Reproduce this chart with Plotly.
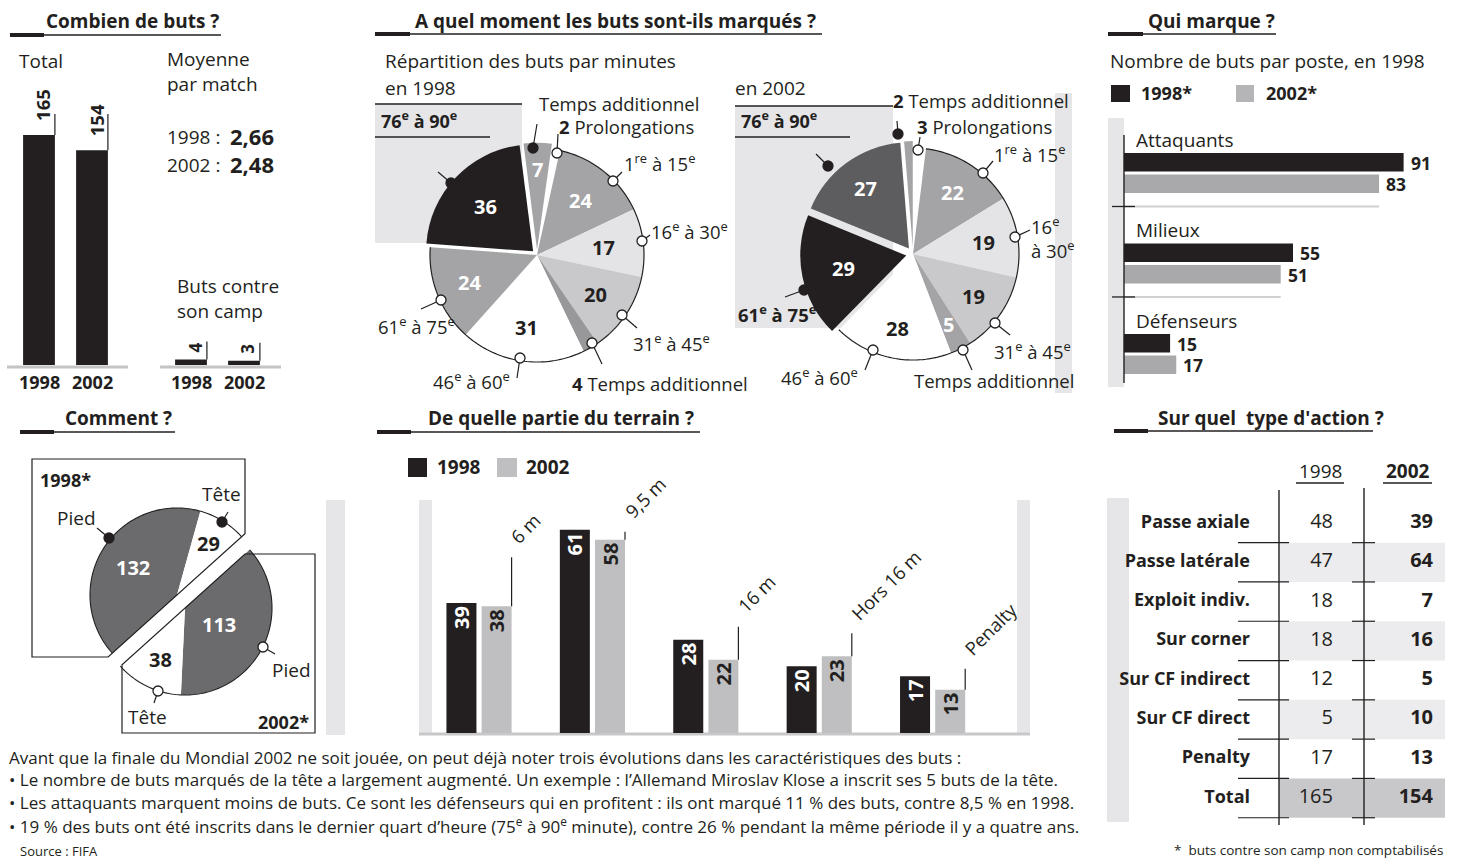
import math
import plotly.graph_objects as go

# ---------------- data ----------------
YEARS = ["1998", "2002"]
TOTAL_GOALS = [165, 154]
OWN_GOALS = [4, 3]
AVG_PER_MATCH = ["2,66", "2,48"]

PERIOD_LABELS = ["Prolongations", "1re à 15e", "16e à 30e", "31e à 45e",
                 "Temps additionnel 1re période", "46e à 60e", "61e à 75e",
                 "76e à 90e", "Temps additionnel 2e période"]
PERIOD_GOALS_1998 = [2, 24, 17, 20, 4, 31, 24, 36, 7]
PERIOD_GOALS_2002 = [3, 22, 19, 19, 5, 28, 29, 27, 2]

POSITIONS = ["Attaquants", "Milieux", "Défenseurs"]
POSITION_GOALS_1998 = [91, 55, 15]
POSITION_GOALS_2002 = [83, 51, 17]

BODY_PARTS = ["Pied", "Tête"]
BODY_GOALS_1998 = [132, 29]
BODY_GOALS_2002 = [113, 38]

ZONES = ["6 m", "9,5 m", "16 m", "Hors 16 m", "Penalty"]
ZONE_GOALS_1998 = [39, 61, 28, 20, 17]
ZONE_GOALS_2002 = [38, 58, 22, 23, 13]

ACTIONS = ["Passe axiale", "Passe latérale", "Exploit indiv.", "Sur corner",
           "Sur CF indirect", "Sur CF direct", "Penalty"]
ACTION_GOALS_1998 = [48, 47, 18, 18, 12, 5, 17]
ACTION_GOALS_2002 = [39, 64, 7, 16, 5, 10, 13]

NOTES = [
    "Avant que la finale du Mondial 2002 ne soit jouée, on peut déjà noter trois évolutions dans les caractéristiques des buts :",
    "• Le nombre de buts marqués de la tête a largement augmenté. Un exemple : l’Allemand Miroslav Klose a inscrit ses 5 buts de la tête.",
    "• Les attaquants marquent moins de buts. Ce sont les défenseurs qui en profitent : ils ont marqué 11 % des buts, contre 8,5 % en 1998.",
    "• 19 % des buts ont été inscrits dans le dernier quart d’heure (75<sup>e</sup> à 90<sup>e</sup> minute), contre 26 % pendant la même période il y a quatre ans.",
]

# ---------------- style ----------------
W, H = 1467, 861
FONT = "Open Sans, Noto Sans, DejaVu Sans, sans-serif"
INK = "#231f20"
DARK = "#5d5c5e"
PIED = "#6b6a6c"
MID = "#a4a4a7"
GREY4 = "#98989b"
PALE = "#c9c9cb"
LIGHT = "#e4e4e6"
BAND = "#e6e6e8"
BAR02 = "#bfbfc1"
BARPOS02 = "#a9a9ab"


def fx(x):
    return x / W


def fy(y):
    return 1 - y / H


shapes, annotations = [], []


def line(x0, y0, x1, y1, color=INK, width=1.2, layer="above"):
    shapes.append(dict(type="line", xref="paper", yref="paper",
                       x0=fx(x0), y0=fy(y0), x1=fx(x1), y1=fy(y1),
                       line=dict(color=color, width=width), layer=layer))


def rect(x0, y0, x1, y1, fill, layer="below"):
    shapes.append(dict(type="rect", xref="paper", yref="paper",
                       x0=fx(x0), y0=fy(y0), x1=fx(x1), y1=fy(y1),
                       fillcolor=fill, line=dict(width=0), layer=layer))


def dot(x, y, filled, r=5):
    shapes.append(dict(type="circle", xref="paper", yref="paper",
                       x0=fx(x - r), y0=fy(y + r), x1=fx(x + r), y1=fy(y - r),
                       fillcolor=INK if filled else "white",
                       line=dict(color=INK, width=1.3), layer="above"))


def path(points, closed=False, color=INK, width=1.2):
    d = "M " + " L ".join(f"{fx(x):.6f},{fy(y):.6f}" for x, y in points)
    if closed:
        d += " Z"
    shapes.append(dict(type="path", xref="paper", yref="paper", path=d,
                       line=dict(color=color, width=width), layer="above"))


def text(x, y, s, size=19, xanchor="left", yanchor="middle", color=INK,
         bold=False, angle=0, align="left"):
    annotations.append(dict(x=fx(x), y=fy(y), xref="paper", yref="paper",
                            text=f"<b>{s}</b>" if bold else s, showarrow=False,
                            xanchor=xanchor, yanchor=yanchor, textangle=angle,
                            align=align,
                            font=dict(family=FONT, size=size, color=color)))


def polar(cx, cy, r, deg):
    t = math.radians(deg)
    return cx + r * math.sin(t), cy - r * math.cos(t)


def slice_angles(values, rotation):
    total = sum(values)
    out, a = [], rotation
    for v in values:
        span = v / total * 360.0
        out.append((a, a + span))
        a += span
    return out


def arc(cx, cy, r, a0, a1, step=1.5):
    n = max(2, int(abs(a1 - a0) / step) + 1)
    return [polar(cx, cy, r, a0 + (a1 - a0) * k / (n - 1)) for k in range(n)]


def section_title(label, x0, x_thick, x_text, x_end, y_text, y_line):
    line(x0, y_line, x_thick, y_line, width=4)
    line(x_thick, y_line, x_end, y_line, width=1.4)
    text(x_text, y_text, label, size=19, bold=True)


fig = go.Figure()

# ============ Combien de buts ? ============
section_title("Combien de buts ?", 10, 44, 44, 221, 21, 35)
text(17, 61, "Total")
text(165, 72, "Moyenne<br>par match")
for k, (yr, avg) in enumerate(zip(YEARS, AVG_PER_MATCH)):
    text(165, 137 + 28 * k, f"{yr} :", size=19)
    text(228, 136 + 28 * k, avg, size=22, bold=True)
text(175, 298, "Buts contre<br>son camp")

idx = list(range(len(YEARS)))
fig.add_trace(go.Bar(x=idx, y=TOTAL_GOALS, xaxis="x", yaxis="y", width=0.6,
                     marker=dict(color=INK, line=dict(width=0)), hoverinfo="skip"))
fig.add_trace(go.Bar(x=idx, y=OWN_GOALS, xaxis="x2", yaxis="y2", width=0.6,
                     marker=dict(color=INK, line=dict(width=0)), hoverinfo="skip"))

line(7, 367, 128, 367, color="#c4c4c6", width=3, layer="below")
line(160, 367, 281, 367, color="#c4c4c6", width=3, layer="below")

for axn, vals, lead, yshift, fsize in (("", TOTAL_GOALS, 46, 12, 18.5),
                                       ("2", OWN_GOALS, 18, 5, 17)):
    for i, v in enumerate(vals):
        shapes.append(dict(type="line", xref="x" + axn, yref="y" + axn,
                           x0=i + 0.3, x1=i + 0.3, ysizemode="pixel", yanchor=v,
                           y0=0, y1=lead, line=dict(color=INK, width=1.2)))
        annotations.append(dict(x=i, y=v, xref="x" + axn, yref="y" + axn,
                                text=f"<b>{v}</b>", showarrow=False, textangle=-90,
                                xanchor="center", yanchor="bottom", xshift=4,
                                yshift=yshift,
                                font=dict(family=FONT, size=fsize, color=INK)))
        annotations.append(dict(x=i, y=fy(382), xref="x" + axn, yref="paper",
                                text=f"<b>{YEARS[i]}</b>", showarrow=False,
                                xanchor="center", yanchor="middle",
                                font=dict(family=FONT, size=18, color=INK)))

# ============ A quel moment ? ============
section_title("A quel moment les buts sont-ils marqués ?", 375, 410, 413, 822, 21, 34)
text(383, 61, "Répartition des buts par minutes")
text(383, 88, "en 1998")
text(733, 88, "en 2002")

rect(375, 104, 522, 243, BAND)
line(375, 104, 522, 104, width=1.3)
line(375, 137, 490, 137, width=1.3)
text(379, 120, "76<sup>e</sup> à 90<sup>e</sup>", bold=True, size=18)

rect(735, 106, 893, 328, BAND)
line(735, 106, 893, 106, width=1.3)
line(735, 137, 850, 137, width=1.3)
text(739, 120, "76<sup>e</sup> à 90<sup>e</sup>", bold=True, size=18)
rect(1055, 93, 1072, 393, BAND)

PIE_1998 = dict(cx=537, cy=255, r=107, rotation=8, arc_last=6,
                colors=["white", MID, LIGHT, PALE, GREY4, "white", MID, INK, MID],
                pull=[0, 0, 0, 0, 0, 0, 0, 0.05, 0.05],
                label_r=[None, .65, .63, .66, None, .68, .68, .61, .75],
                label_color=[None, "white", INK, INK, None, INK, "white", "white", "white"])
PIE_2002 = dict(cx=913, cy=254, r=106, rotation=0, arc_last=5,
                colors=["white", MID, LIGHT, PALE, MID, "white", INK, DARK, MID],
                pull=[0, 0, 0, 0, 0, 0, 0.065, 0.065, 0.065],
                label_r=[None, .69, .67, .70, .75, .72, .6, .7, None],
                label_color=[None, "white", INK, INK, "white", INK, "white", "white", None])

for values, cfg in ((PERIOD_GOALS_1998, PIE_1998), (PERIOD_GOALS_2002, PIE_2002)):
    cx, cy, r = cfg["cx"], cfg["cy"], cfg["r"]
    half = r * (1 + max(cfg["pull"]))
    fig.add_trace(go.Pie(values=values, labels=PERIOD_LABELS, sort=False,
                         direction="clockwise", rotation=cfg["rotation"],
                         pull=cfg["pull"], textinfo="none", hoverinfo="skip",
                         marker=dict(colors=cfg["colors"], line=dict(width=0)),
                         domain=dict(x=[fx(cx - half), fx(cx + half)],
                                     y=[fy(cy + half), fy(cy - half)])))
    angles = slice_angles(values, cfg["rotation"])
    path(arc(cx, cy, r, angles[1][0], angles[cfg["arc_last"]][1]), width=1.2)
    for v, (a0, a1), lr, lc, pl in zip(values, angles, cfg["label_r"],
                                       cfg["label_color"], cfg["pull"]):
        if lr is None:
            continue
        lx, ly = polar(cx, cy, (lr + pl) * r, (a0 + a1) / 2)
        text(lx, ly, str(v), size=20, bold=True, color=lc, xanchor="center")

# callouts 1998
for (x, y, fill, lx, ly) in [
        (533, 148, True, 537, 124), (557, 153, False, 558, 134),
        (613, 181, False, 622, 172), (642, 241, False, 650, 235),
        (622, 315, False, 637, 328), (592, 343, False, 602, 364),
        (520, 358, False, 517, 378), (441, 300, False, 421, 309),
        (451, 183, True, 438, 172)]:
    line(x, y, lx, ly, width=1.2)
    dot(x, y, fill)
text(537, 103, "Temps additionnel", size=18.5)
text(557, 126, "<b>2</b> Prolongations", size=18.5)
text(622, 162, "1<sup>re</sup> à 15<sup>e</sup>", size=18.5)
text(649, 230, "16<sup>e</sup> à 30<sup>e</sup>", size=18.5)
text(631, 342, "31<sup>e</sup> à 45<sup>e</sup>", size=18.5)
text(570, 383, "<b>4</b> Temps additionnel", size=18.5)
text(512, 381, "46<sup>e</sup> à 60<sup>e</sup>", size=18.5, xanchor="right")
text(376, 325, "61<sup>e</sup> à 75<sup>e</sup>", size=18.5)

# callouts 2002
for (x, y, fill, lx, ly) in [
        (898, 134, True, 897, 121), (918, 150, False, 920, 137),
        (983, 173, False, 993, 161), (1015, 237, False, 1030, 230),
        (995, 323, False, 1010, 335), (963, 350, False, 972, 370),
        (873, 350, False, 865, 370), (804, 290, True, 785, 297),
        (828, 166, True, 816, 154)]:
    line(x, y, lx, ly, width=1.2)
    dot(x, y, fill)
text(891, 100, "<b>2</b> Temps additionnel", size=18.5)
text(915, 126, "<b>3</b> Prolongations", size=18.5)
text(992, 154, "1<sup>re</sup> à 15<sup>e</sup>", size=18.5)
text(1029, 238, "16<sup>e</sup><br>à 30<sup>e</sup>", size=18.5)
text(992, 350, "31<sup>e</sup> à 45<sup>e</sup>", size=18.5)
text(912, 381, "Temps additionnel", size=18.5)
text(860, 377, "46<sup>e</sup> à 60<sup>e</sup>", size=18.5, xanchor="right")
text(736, 313, "61<sup>e</sup> à 75<sup>e</sup>", size=18.5, bold=True)

# ============ Qui marque ? ============
section_title("Qui marque ?", 1108, 1143, 1146, 1276, 21, 34)
text(1108, 61, "Nombre de buts par poste, en 1998")
rect(1111, 85, 1130, 102, INK, layer="above")
text(1139, 93, "1998*", size=18, bold=True)
rect(1236, 85, 1254, 102, "#b5b5b7", layer="above")
text(1264, 93, "2002*", size=18, bold=True)
rect(1108, 118, 1124, 387, BAND)
line(1124, 135, 1124, 383, width=1.4)

pos_idx = list(range(len(POSITIONS)))
fig.add_trace(go.Bar(y=pos_idx, x=POSITION_GOALS_1998, orientation="h",
                     xaxis="x3", yaxis="y3", width=0.204, offset=-0.221,
                     marker=dict(color=INK, line=dict(width=0)), hoverinfo="skip"))
fig.add_trace(go.Bar(y=pos_idx, x=POSITION_GOALS_2002, orientation="h",
                     xaxis="x3", yaxis="y3", width=0.204, offset=0.017,
                     marker=dict(color=BARPOS02, line=dict(width=0)), hoverinfo="skip"))
for i, name in enumerate(POSITIONS):
    annotations.append(dict(x=0, y=i - 0.37, xref="x3", yref="y3", text=name,
                            showarrow=False, xanchor="left", yanchor="middle",
                            xshift=10, font=dict(family=FONT, size=19, color=INK)))
    for v, off in ((POSITION_GOALS_1998[i], -0.114), (POSITION_GOALS_2002[i], 0.122)):
        annotations.append(dict(x=v, y=i + off, xref="x3", yref="y3",
                                text=f"<b>{v}</b>", showarrow=False,
                                xanchor="left", yanchor="middle", xshift=5,
                                font=dict(family=FONT, size=17.5, color=INK)))
    if i < len(POSITIONS) - 1:
        shapes.append(dict(type="line", xref="x3", yref="y3", x0=0,
                           x1=POSITION_GOALS_2002[i], y0=i + 0.37, y1=i + 0.37,
                           line=dict(color="#d0d0d2", width=2), layer="below"))
        shapes.append(dict(type="line", xref="paper", yref="y3", x0=fx(1112),
                           x1=fx(1135), y0=i + 0.37, y1=i + 0.37,
                           line=dict(color=INK, width=1.3)))

# ============ Comment ? ============
section_title("Comment ?", 20, 54, 63, 175, 418, 432)
rect(326, 500, 345, 735, BAND)

HALF_1998 = dict(cx=177, cy=595, r=87, rotation=228,
                 label_r=[0.6, 0.69], label_color=["white", INK])
HALF_2002 = dict(cx=185, cy=608, r=87, rotation=48,
                 label_r=[0.43, 0.66], label_color=["white", INK])
DIAM = 48  # direction of the cut through both discs


def on_cut(cfg, x=None, y=None):
    ux, uy = math.sin(math.radians(DIAM)), -math.cos(math.radians(DIAM))
    if x is not None:
        t = (x - cfg["cx"]) / ux
    else:
        t = (y - cfg["cy"]) / uy
    return cfg["cx"] + t * ux, cfg["cy"] + t * uy


for values, cfg in ((BODY_GOALS_1998, HALF_1998), (BODY_GOALS_2002, HALF_2002)):
    cx, cy, r = cfg["cx"], cfg["cy"], cfg["r"]
    vals = list(values) + [sum(values)]
    fig.add_trace(go.Pie(values=vals, labels=BODY_PARTS + [""], sort=False,
                         direction="clockwise", rotation=cfg["rotation"],
                         textinfo="none", hoverinfo="skip",
                         marker=dict(colors=[PIED, "white", "rgba(0,0,0,0)"],
                                     line=dict(width=0)),
                         domain=dict(x=[fx(cx - r), fx(cx + r)],
                                     y=[fy(cy + r), fy(cy - r)])))
    angles = slice_angles(vals, cfg["rotation"])
    path(arc(cx, cy, r, angles[0][0], angles[1][1]), width=1.1)
    for v, (a0, a1), lr, lc in zip(values, angles, cfg["label_r"], cfg["label_color"]):
        lx, ly = polar(cx, cy, lr * r, (a0 + a1) / 2)
        text(lx, ly, str(v), size=20, bold=True, color=lc, xanchor="center")

path([(32, 459), (245, 459), on_cut(HALF_1998, x=245), on_cut(HALF_1998, y=657),
      (32, 657)], closed=True, width=1.2)
path([on_cut(HALF_2002, y=554), (315, 554), (315, 733), (122, 733),
      on_cut(HALF_2002, x=122)], closed=True, width=1.2)
text(38, 480, "1998*", size=18, bold=True)
text(311, 722, "2002*", size=18, bold=True, xanchor="right")
for (x, y, fill, lx, ly) in [(222, 522, True, 228, 512), (109, 538, True, 97, 528),
                             (263, 647, False, 275, 654), (158, 691, False, 154, 703)]:
    line(x, y, lx, ly, width=1.2)
    dot(x, y, fill)
text(221, 494, "Tête", xanchor="center")
text(76, 518, "Pied", xanchor="center")
text(291, 670, "Pied", xanchor="center")
text(147, 717, "Tête", xanchor="center")

# ============ De quelle partie du terrain ? ============
section_title("De quelle partie du terrain ?", 377, 411, 426, 700, 418, 432)
rect(408, 458, 427, 477, INK, layer="above")
text(435, 467, "1998", size=19, bold=True)
rect(497, 458, 517, 477, BAR02, layer="above")
text(524, 467, "2002", size=19, bold=True)
rect(419, 500, 432, 733, BAND)
rect(1017, 500, 1030, 733, BAND)
line(419, 734, 1030, 734, color="#c8c8ca", width=3, layer="below")

zone_idx = list(range(len(ZONES)))
BW, OFF98, OFF02 = 0.2646, -0.287, 0.023
for vals, off, col, tcol in ((ZONE_GOALS_1998, OFF98, INK, "white"),
                             (ZONE_GOALS_2002, OFF02, BAR02, INK)):
    fig.add_trace(go.Bar(x=zone_idx, y=vals, xaxis="x4", yaxis="y4", width=BW,
                         offset=off, marker=dict(color=col, line=dict(width=0)),
                         text=[str(v) for v in vals], textposition="inside",
                         insidetextanchor="end", textangle=-90, constraintext="none",
                         textfont=dict(family=FONT, size=20, color=tcol, weight="bold"),
                         hoverinfo="skip"))
ZONE_LEADERS = [49, 8, 33, 23, 21]
for i, (name, v, lead) in enumerate(zip(ZONES, ZONE_GOALS_2002, ZONE_LEADERS)):
    xr = i + OFF02 + BW
    shapes.append(dict(type="line", xref="x4", yref="y4", x0=xr, x1=xr,
                       ysizemode="pixel", yanchor=v, y0=0, y1=lead,
                       line=dict(color=INK, width=1.2)))
    annotations.append(dict(x=xr, y=v, xref="x4", yref="y4", text=name,
                            showarrow=False, textangle=-45, xanchor="left",
                            yanchor="bottom", xshift=-9, yshift=lead + 6,
                            font=dict(family=FONT, size=18.5, color=INK)))

# ============ Sur quel type d'action ? ============
section_title("Sur quel  type d'action ?", 1114, 1148, 1156, 1373, 418, 431)
text(1320, 471, "1998", size=19, xanchor="center")
line(1296, 483, 1344, 483, width=1.3)
text(1408, 471, "2002", size=19, xanchor="center", bold=True)
line(1383, 483, 1432, 483, width=1.3)
rect(1107, 498, 1129, 822, BAND)

row_names = ACTIONS + ["Total"]
col_1998 = ACTION_GOALS_1998 + [TOTAL_GOALS[0]]
col_2002 = ACTION_GOALS_2002 + [TOTAL_GOALS[1]]
rows = list(range(len(row_names)))
for i in rows:
    if i % 2 == 1:
        shade = "#c8c8ca" if row_names[i] == "Total" else "#ececee"
        shapes.append(dict(type="rect", xref="paper", yref="y5", x0=fx(1279),
                           x1=fx(1445), y0=i - 0.5, y1=i + 0.5, fillcolor=shade,
                           line=dict(width=0), layer="below"))
    for xa, xb in ((1238, 1289), (1352, 1375)):
        shapes.append(dict(type="line", xref="paper", yref="y5", x0=fx(xa),
                           x1=fx(xb), y0=i + 0.5, y1=i + 0.5,
                           line=dict(color=INK, width=1.2)))
line(1279, 490, 1279, 825, width=1.4)
line(1364, 488, 1364, 825, width=1.4)

fig.add_trace(go.Scatter(x=[1250] * len(rows), y=rows, mode="text", text=row_names,
                         textposition="middle left", xaxis="x5", yaxis="y5",
                         textfont=dict(family=FONT, size=18, color=INK, weight="bold"),
                         hoverinfo="skip"))
fig.add_trace(go.Scatter(x=[1333] * len(rows), y=rows, mode="text",
                         text=[str(v) for v in col_1998], textposition="middle left",
                         xaxis="x5", yaxis="y5",
                         textfont=dict(family=FONT, size=20, color=INK),
                         hoverinfo="skip"))
fig.add_trace(go.Scatter(x=[1433] * len(rows), y=rows, mode="text",
                         text=[str(v) for v in col_2002], textposition="middle left",
                         xaxis="x5", yaxis="y5",
                         textfont=dict(family=FONT, size=20, color=INK, weight="bold"),
                         hoverinfo="skip"))

# ============ notes ============
for k, s in enumerate(NOTES):
    text(7, 757 + 22.7 * k, s, size=17)
text(18, 851, "Source : FIFA", size=13)
text(1445, 850, "*  buts contre son camp non comptabilisés", size=13.5, xanchor="right")


def hidden_axis(domain, rng, anchor):
    return dict(domain=domain, range=rng, visible=False, fixedrange=True,
                anchor=anchor)


fig.update_layout(
    width=W, height=H, autosize=False,
    margin=dict(l=0, r=0, t=0, b=0, pad=0),
    paper_bgcolor="white", plot_bgcolor="white",
    showlegend=False,
    font=dict(family=FONT, color=INK),
    xaxis=hidden_axis([fx(12.5), fx(118.5)], [-0.5, 1.5], "y"),
    yaxis=hidden_axis([fy(365), fy(114)], [0, 180], "x"),
    xaxis2=hidden_axis([fx(164.5), fx(270.5)], [-0.5, 1.5], "y2"),
    yaxis2=hidden_axis([fy(365), fy(114)], [0, 180], "x2"),
    xaxis3=hidden_axis([fx(1124), fx(1462)], [0, 110], "y3"),
    yaxis3=hidden_axis([fy(387), fy(118)], [2.365, -0.608], "x3"),
    xaxis4=hidden_axis([fx(419), fx(1030)], [-0.529, 4.859], "y4"),
    yaxis4=hidden_axis([fy(733), fy(500)], [0, 69.9], "x4"),
    xaxis5=hidden_axis([fx(1100), fx(1460)], [1100, 1460], "y5"),
    yaxis5=hidden_axis([fy(825), fy(490)], [7.685, -0.84], "x5"),
    shapes=shapes,
    annotations=annotations,
)

fig.write_html("out.html")
